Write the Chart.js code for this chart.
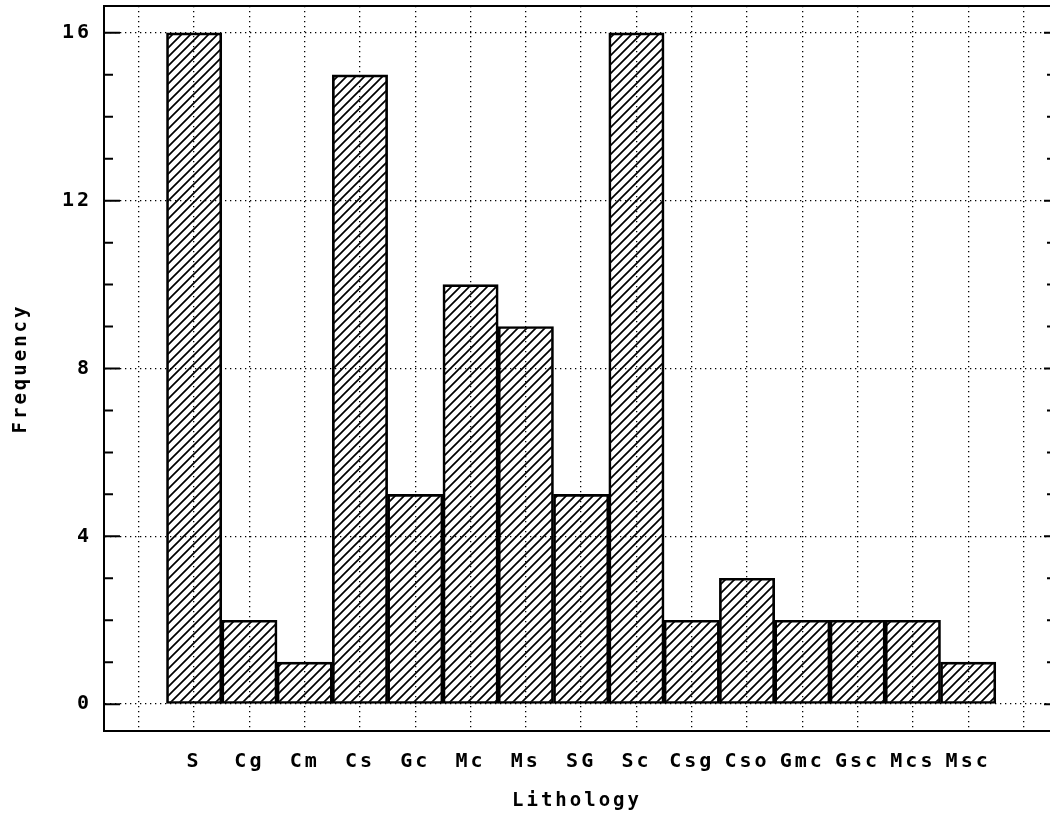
<!DOCTYPE html>
<html>
<head>
<meta charset="utf-8">
<script src="https://cdn.jsdelivr.net/npm/chart.js@4"></script>
<style>
  html, body { margin: 0; background: #fff; }
  #wrap { width: 1050px; height: 815px; }
</style>
</head>
<body>
<div id="wrap"><canvas id="chart"></canvas></div>
<script>
const lithology = ["S", "Cg", "Cm", "Cs", "Gc", "Mc", "Ms", "SG", "Sc", "Csg", "Cso", "Gmc", "Gsc", "Mcs", "Msc"]
const frequency = [16, 2, 1, 15, 5, 10, 9, 5, 16, 2, 3, 2, 2, 2, 1]
const yMajorTicks = [0, 4, 8, 12, 16]
const yMinorTicks = [0, 1, 2, 3, 4, 5, 6, 7, 8, 9, 10, 11, 12, 13, 14, 15, 16]
// one empty slot on each side of the categories
const xGridSlots = [-1, 0, 1, 2, 3, 4, 5, 6, 7, 8, 9, 10, 11, 12, 13, 14, 15]

const plotFont = "'DejaVu Sans Mono', monospace"

// diagonal "/" hatching used for the bars
function makeHatch() {
    const s = 9
    const c = document.createElement("canvas")
    c.width = s
    c.height = s
    const g = c.getContext("2d")
    g.strokeStyle = "#000"
    g.lineWidth = 1.7
    g.lineCap = "square"
    g.beginPath()
    g.moveTo(0, s)
    g.lineTo(s, 0)
    g.moveTo(-1, 1)
    g.lineTo(1, -1)
    g.moveTo(s - 1, s + 1)
    g.lineTo(s + 1, s - 1)
    g.stroke()
    return g.createPattern(c, "repeat")
}

// wide plotter-style lettering
const spacing = {
    id: "spacing",
    beforeDraw(chart) {
        chart.ctx.letterSpacing = "3px"
    }
}

// frame top edge and the inward tick marks on both sides
const frame = {
    id: "frame",
    afterDatasetsDraw(chart) {
        const { ctx, chartArea } = chart
        const y = chart.scales.y
        ctx.save()
        ctx.strokeStyle = "#000"
        ctx.lineWidth = 2
        ctx.beginPath()
        ctx.moveTo(chartArea.left - 1, chartArea.top)
        ctx.lineTo(chartArea.right, chartArea.top)
        ctx.stroke()
        yMinorTicks.forEach(v => {
            const py = y.getPixelForValue(v)
            const major = yMajorTicks.includes(v)
            ctx.beginPath()
            ctx.moveTo(chartArea.left, py)
            ctx.lineTo(chartArea.left + (major ? 16 : 9), py)
            ctx.moveTo(chartArea.right, py)
            ctx.lineTo(chartArea.right - (major ? 6 : 3), py)
            ctx.stroke()
        })
        ctx.restore()
    }
}

const context = document.getElementById("chart").getContext("2d")
const chart = new Chart(context, {
    type: "bar",
    data: {
        datasets: [{
            label: "Frequency",
            data: frequency.map((v, i) => ({ x: i, y: v })),
            backgroundColor: makeHatch(),
            borderColor: "#000",
            borderWidth: 2,
            borderSkipped: false,
            barPercentage: 1,
            categoryPercentage: 1
        }]
    },
    options: {
        responsive: true,
        maintainAspectRatio: false,
        animation: false,
        layout: { padding: { top: 6, right: 0, left: 0, bottom: 0 } },
        plugins: {
            legend: { display: false },
            tooltip: { enabled: false }
        },
        scales: {
            x: {
                type: "linear",
                offset: false,
                min: -1.63,
                max: 15.48,
                afterFit(scale) {
                    scale.height = 84
                    scale.paddingLeft = 0
                    scale.paddingRight = 0
                },
                afterBuildTicks(scale) {
                    scale.ticks = xGridSlots.map(v => ({ value: v }))
                },
                grid: {
                    offset: false,
                    color: "#000",
                    lineWidth: 1.3,
                    drawTicks: false
                },
                border: { display: true, color: "#000", width: 2, dash: [1.3, 3.7] },
                ticks: {
                    autoSkip: false,
                    maxRotation: 0,
                    padding: 19,
                    color: "#000",
                    font: { family: plotFont, size: 20, weight: "bold" },
                    callback: v => lithology[v] ?? ""
                },
                title: {
                    display: true,
                    text: "Lithology",
                    color: "#000",
                    font: { family: plotFont, size: 19, weight: "bold" },
                    padding: { top: 0, bottom: 3 }
                }
            },
            y: {
                min: -0.64,
                max: 16.64,
                afterFit(scale) {
                    scale.width = 104
                    scale.paddingTop = 0
                    scale.paddingBottom = 0
                },
                afterBuildTicks(scale) {
                    scale.ticks = yMajorTicks.map(v => ({ value: v }))
                },
                grid: {
                    color: "#000",
                    lineWidth: 1.3,
                    drawTicks: false
                },
                border: { display: true, color: "#000", width: 2, dash: [1.3, 3.7] },
                ticks: {
                    padding: 12,
                    color: "#000",
                    font: { family: plotFont, size: 20, weight: "bold" }
                },
                title: {
                    display: true,
                    text: "Frequency",
                    color: "#000",
                    font: { family: plotFont, size: 19, weight: "bold" },
                    padding: { top: 10, bottom: 0 }
                }
            }
        }
    },
    plugins: [spacing, frame]
})
</script>
</body>
</html>
